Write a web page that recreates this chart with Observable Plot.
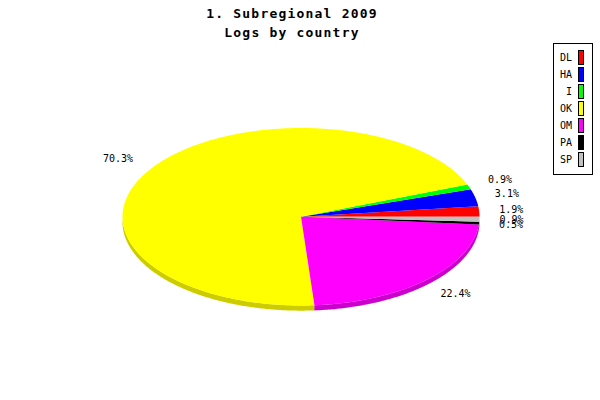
<!DOCTYPE html>
<html>
<head>
<meta charset="utf-8">
<script src="https://cdn.jsdelivr.net/npm/d3@7"></script>
<script src="https://cdn.jsdelivr.net/npm/@observablehq/plot@0.6"></script>
<style>
  body { margin: 0; background: #fff; }
  #wrap { position: relative; width: 600px; height: 400px; overflow: hidden; font-family: "DejaVu Sans Mono", monospace; }
  #title { position: absolute; left: -8px; top: 4px; width: 600px; text-align: center; font-size: 13px; font-weight: bold; letter-spacing: 1.2px; line-height: 19px; color: #000; }
  #legend { position: absolute; left: 553px; top: 43px; width: 38px; height: 130px; border: 1px solid #000; background: #fff; }
  .row { position: absolute; left: 0; width: 38px; height: 15px; }
  .lab { position: absolute; right: 20px; top: 0; font-size: 10px; line-height: 15px; }
  .sw { position: absolute; left: 24px; top: 0; width: 4px; height: 13px; border: 1px solid #000; }
  svg { position: absolute; left: 0; top: 0; }
</style>
</head>
<body>
<div id="wrap">
  <div id="chart"></div>
  <div id="title">1. Subregional 2009<br>Logs by country</div>
  <div id="legend"></div>
</div>
<script>
const categories = ["DL", "HA", "I", "OK", "OM", "PA", "SP"];
const values = [1.9, 3.1, 0.9, 70.3, 22.4, 0.5, 0.9];
const colors = ["#ff0000", "#0000ff", "#00ff00", "#ffff00", "#ff00ff", "#000000", "#c0c0c0"];

const depth = 0.058;
const arcs = d3.pie().sort(null).value(d => d).startAngle(0).endAngle(2 * Math.PI)(values);

const topPts = [];
const sidePts = [];
const labels = [];
arcs.forEach((a, i) => {
  const cat = categories[i];
  const a0 = a.startAngle, a1 = a.endAngle;
  topPts.push({cat, x: 0, y: 0});
  const n = Math.max(2, Math.ceil((a1 - a0) / 0.01));
  for (let k = 0; k <= n; k++) {
    const t = a0 + (a1 - a0) * k / n;
    topPts.push({cat, x: Math.cos(t), y: Math.sin(t)});
  }
  const s = Math.max(a0, Math.PI), e = Math.min(a1, 2 * Math.PI);
  if (s < e) {
    const m = Math.max(2, Math.ceil((e - s) / 0.01));
    for (let k = 0; k <= m; k++) {
      const t = s + (e - s) * k / m;
      sidePts.push({cat, x: Math.cos(t), y: Math.sin(t)});
    }
    for (let k = m; k >= 0; k--) {
      const t = s + (e - s) * k / m;
      sidePts.push({cat, x: Math.cos(t), y: Math.sin(t) - depth});
    }
  }
  const mid = (a0 + a1) / 2;
  labels.push({
    cat,
    text: d3.format(".1f")(values[i]) + "%",
    x: 1.112 * Math.cos(mid),
    y: 1.225 * Math.sin(mid),
    anchor: Math.cos(mid) < 0 ? "end" : "start"
  });
});

const chart = Plot.plot({
  width: 600,
  height: 400,
  margin: 0,
  x: {domain: [-1, 1], range: [122, 479], axis: null},
  y: {domain: [-1, 1], range: [305, 127.5], axis: null},
  color: {domain: categories, range: colors},
  style: {background: "transparent", fontFamily: "DejaVu Sans Mono, monospace"},
  marks: [
    Plot.line(sidePts, {x: "x", y: "y", z: "cat", fill: "cat", stroke: "none"}),
    Plot.line(sidePts, {x: "x", y: "y", z: "cat", fill: "#000", fillOpacity: 0.2, stroke: "none"}),
    Plot.line(topPts, {x: "x", y: "y", z: "cat", fill: "cat", stroke: "none"}),
    Plot.text(labels.filter(d => d.anchor === "end"), {x: "x", y: "y", text: "text", textAnchor: "end", fontSize: 10, fill: "#000"}),
    Plot.text(labels.filter(d => d.anchor === "start"), {x: "x", y: "y", text: "text", textAnchor: "start", fontSize: 10, fill: "#000"})
  ]
});
document.getElementById("chart").appendChild(chart);

const legend = d3.select("#legend");
categories.forEach((c, i) => {
  const row = legend.append("div").attr("class", "row").style("top", (6 + 17 * i) + "px");
  row.append("div").attr("class", "lab").text(c);
  row.append("div").attr("class", "sw").style("background", colors[i]);
});
</script>
</body>
</html>
